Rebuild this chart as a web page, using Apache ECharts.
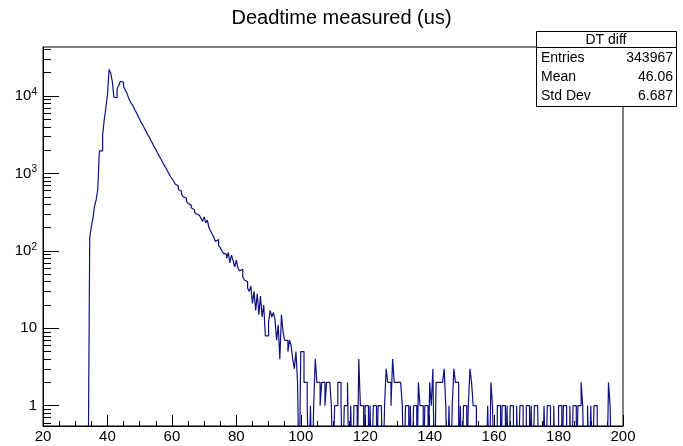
<!DOCTYPE html>
<html>
<head>
<meta charset="utf-8">
<script src="https://cdn.jsdelivr.net/npm/echarts@6/dist/echarts.min.js"></script>
<style>
html, body { margin: 0; padding: 0; background: #fff; }
#chart { width: 683px; height: 446px; }
</style>
</head>
<body>
<div id="chart"></div>
<script>
// histogram binning (us)
var binStart = 34.5;
var binWidth = 0.5;

// counts per bin, 34.5 .. 45.5
var countsRise = [150, 205, 265, 380, 455, 630, 1960, 1960, 3150, 4900, 7000, 10200,
    22000, 20000, 15500, 9700, 9500, 12500, 13600, 15500, 15000, 13300, 12000];
// 46.0 .. 71.5
var countsDecay = [11000, 9600, 8600, 7900, 7400, 6600, 6100, 5500, 5000, 4500,
    4200, 3800, 3500, 3150, 2950, 2650, 2450, 2200, 2050, 1850,
    1700, 1560, 1430, 1300, 1200, 1100, 1010, 920, 860, 800,
    730, 690, 620, 590, 540, 500, 480, 440, 410, 390,
    360, 340, 320, 300, 290, 280, 265, 240, 275, 230, 250, 200];
// 72.0 .. 99.5
var countsKnee = [180, 165, 150, 132, 140, 118, 110, 100, 93, 90,
    80, 95, 70, 88, 75, 62, 76, 60, 55, 58,
    46, 42, 40, 33, 30, 35, 21, 30, 17, 28,
    15, 26, 14, 20, 8, 8, 12, 17, 14, 16,
    13, 7, 11, 4, 15, 9, 7, 7, 5, 7,
    6, 4, 3, 5, 2, 0];
// 100.0 .. 199.5
var countsTail = [5, 5, 2, 2, 1, 0, 1, 0, 1, 4,
    2, 2, 1, 2, 2, 1, 2, 2, 2, 1,
    0, 1, 1, 2, 2, 1, 0, 1, 1, 2,
    0, 1, 0, 1, 1, 0, 4, 1, 1, 0,
    1, 1, 0, 1, 0, 1, 1, 0, 1, 1,
    1, 0, 1, 3, 2, 2, 1, 4, 2, 2,
    2, 2, 2, 1, 0, 1, 1, 0, 1, 0,
    1, 1, 0, 2, 1, 1, 0, 1, 1, 0,
    2, 1, 3, 0, 2, 2, 2, 2, 2, 3,
    1, 0, 1, 0, 1, 3, 2, 2, 0, 1,
    0, 1, 1, 0, 1, 3, 2, 1, 1, 0,
    0, 0, 0, 0, 0, 0, 1, 0, 2, 1,
    0, 0, 1, 1, 0, 1, 1, 0, 1, 0,
    1, 1, 0, 0, 1, 0, 1, 1, 0, 0,
    1, 1, 0, 1, 0, 1, 1, 1, 0, 0,
    0, 1, 0, 1, 1, 0, 0, 1, 0, 0,
    1, 1, 0, 1, 1, 0, 0, 1, 0, 1,
    1, 0, 1, 1, 2, 1, 0, 0, 1, 0,
    1, 0, 1, 1, 0, 0, 0, 0, 0, 0,
    0, 2, 1, 0, 0, 0, 0, 0, 0, 0];

var yMajorTicks = [1, 10, 100, 1000, 10000];
var yMinorTicks = [0.6, 0.7, 0.8, 0.9, 2, 3, 4, 5, 6, 7, 8, 9,
    20, 30, 40, 50, 60, 70, 80, 90, 200, 300, 400, 500, 600, 700, 800, 900,
    2000, 3000, 4000, 5000, 6000, 7000, 8000, 9000, 20000, 30000, 40000];

var statNames = ['Entries', 'Mean', 'Std Dev'];
var statValues = ['343967', '46.06', '6.687'];

var yMin = 0.547;
var yMax = 43000;
var floorValue = 0.1; // empty bins sit under the axis

var counts = countsRise.concat(countsDecay, countsKnee, countsTail);

var lineData = [[binStart - binWidth, floorValue]];
counts.forEach(function (c, i) {
    lineData.push([binStart + i * binWidth, c > 0 ? c : floorValue]);
});
lineData.push([binStart + counts.length * binWidth, floorValue]);

var font = 'Liberation Sans';

function yLabel(v) {
    if (v < 5) return '1';
    if (v < 50) return '10';
    return '{b|10}{s|' + Math.round(Math.log10(v)) + '}';
}

var statGraphics = [
    { type: 'rect', shape: { x: 536.5, y: 31.5, width: 140, height: 75 },
      style: { fill: '#fff', stroke: '#000', lineWidth: 1 }, z: 10 },
    { type: 'line', shape: { x1: 536.5, y1: 47.5, x2: 676.5, y2: 47.5 },
      style: { stroke: '#000', lineWidth: 1 }, z: 11 },
    { type: 'text', x: 606, y: 40, z: 11,
      style: { text: 'DT diff', align: 'center', verticalAlign: 'middle', font: '14px ' + font, fill: '#000' } }
];
statNames.forEach(function (n, i) {
    statGraphics.push({ type: 'text', x: 541, y: 58 + i * 19, z: 11,
        style: { text: n, align: 'left', verticalAlign: 'middle', font: '14px ' + font, fill: '#000' } });
    statGraphics.push({ type: 'text', x: 673, y: 58 + i * 19, z: 11,
        style: { text: statValues[i], align: 'right', verticalAlign: 'middle', font: '14px ' + font, fill: '#000' } });
});

var chart = echarts.init(document.getElementById('chart'));
chart.setOption({
    animation: false,
    backgroundColor: '#fff',
    title: {
        text: 'Deadtime measured (us)',
        left: 'center',
        top: 3,
        textStyle: { fontFamily: font, fontSize: 20, fontWeight: 'normal', color: '#000' }
    },
    grid: {
        left: 43, right: 60, top: 47, bottom: 20,
        show: true, borderColor: '#000', borderWidth: 1, backgroundColor: 'transparent'
    },
    xAxis: {
        type: 'value', min: 20, max: 200, interval: 20,
        axisLine: { lineStyle: { color: '#000', width: 1 } },
        axisTick: { inside: true, length: 11, lineStyle: { color: '#000' } },
        minorTick: { show: true, splitNumber: 4, length: 5, lineStyle: { color: '#000' } },
        axisLabel: { color: '#000', fontFamily: font, fontSize: 15, margin: 3 },
        splitLine: { show: false }
    },
    yAxis: [{
        type: 'log', logBase: 10, min: yMin, max: yMax,
        axisLine: { show: true, lineStyle: { color: '#000', width: 1 } },
        axisTick: { inside: true, length: 16, customValues: yMajorTicks, lineStyle: { color: '#000' } },
        axisLabel: {
            customValues: yMajorTicks, formatter: yLabel, margin: 6,
            color: '#000', fontFamily: font, fontSize: 15,
            rich: {
                b: { fontFamily: font, fontSize: 15, color: '#000', lineHeight: 18 },
                s: { fontFamily: font, fontSize: 10, color: '#000', verticalAlign: 'top', lineHeight: 12 }
            }
        },
        splitLine: { show: false }
    }, {
        type: 'log', logBase: 10, min: yMin, max: yMax, position: 'left',
        axisLine: { show: false },
        axisTick: { inside: true, length: 8, customValues: yMinorTicks, lineStyle: { color: '#000' } },
        axisLabel: { show: false },
        splitLine: { show: false }
    }],
    graphic: statGraphics,
    series: [{
        type: 'line',
        step: 'end',
        yAxisIndex: 0,
        data: lineData,
        showSymbol: false,
        clip: true,
        lineStyle: { color: '#101080', width: 1.2 }
    }]
});
</script>
</body>
</html>
